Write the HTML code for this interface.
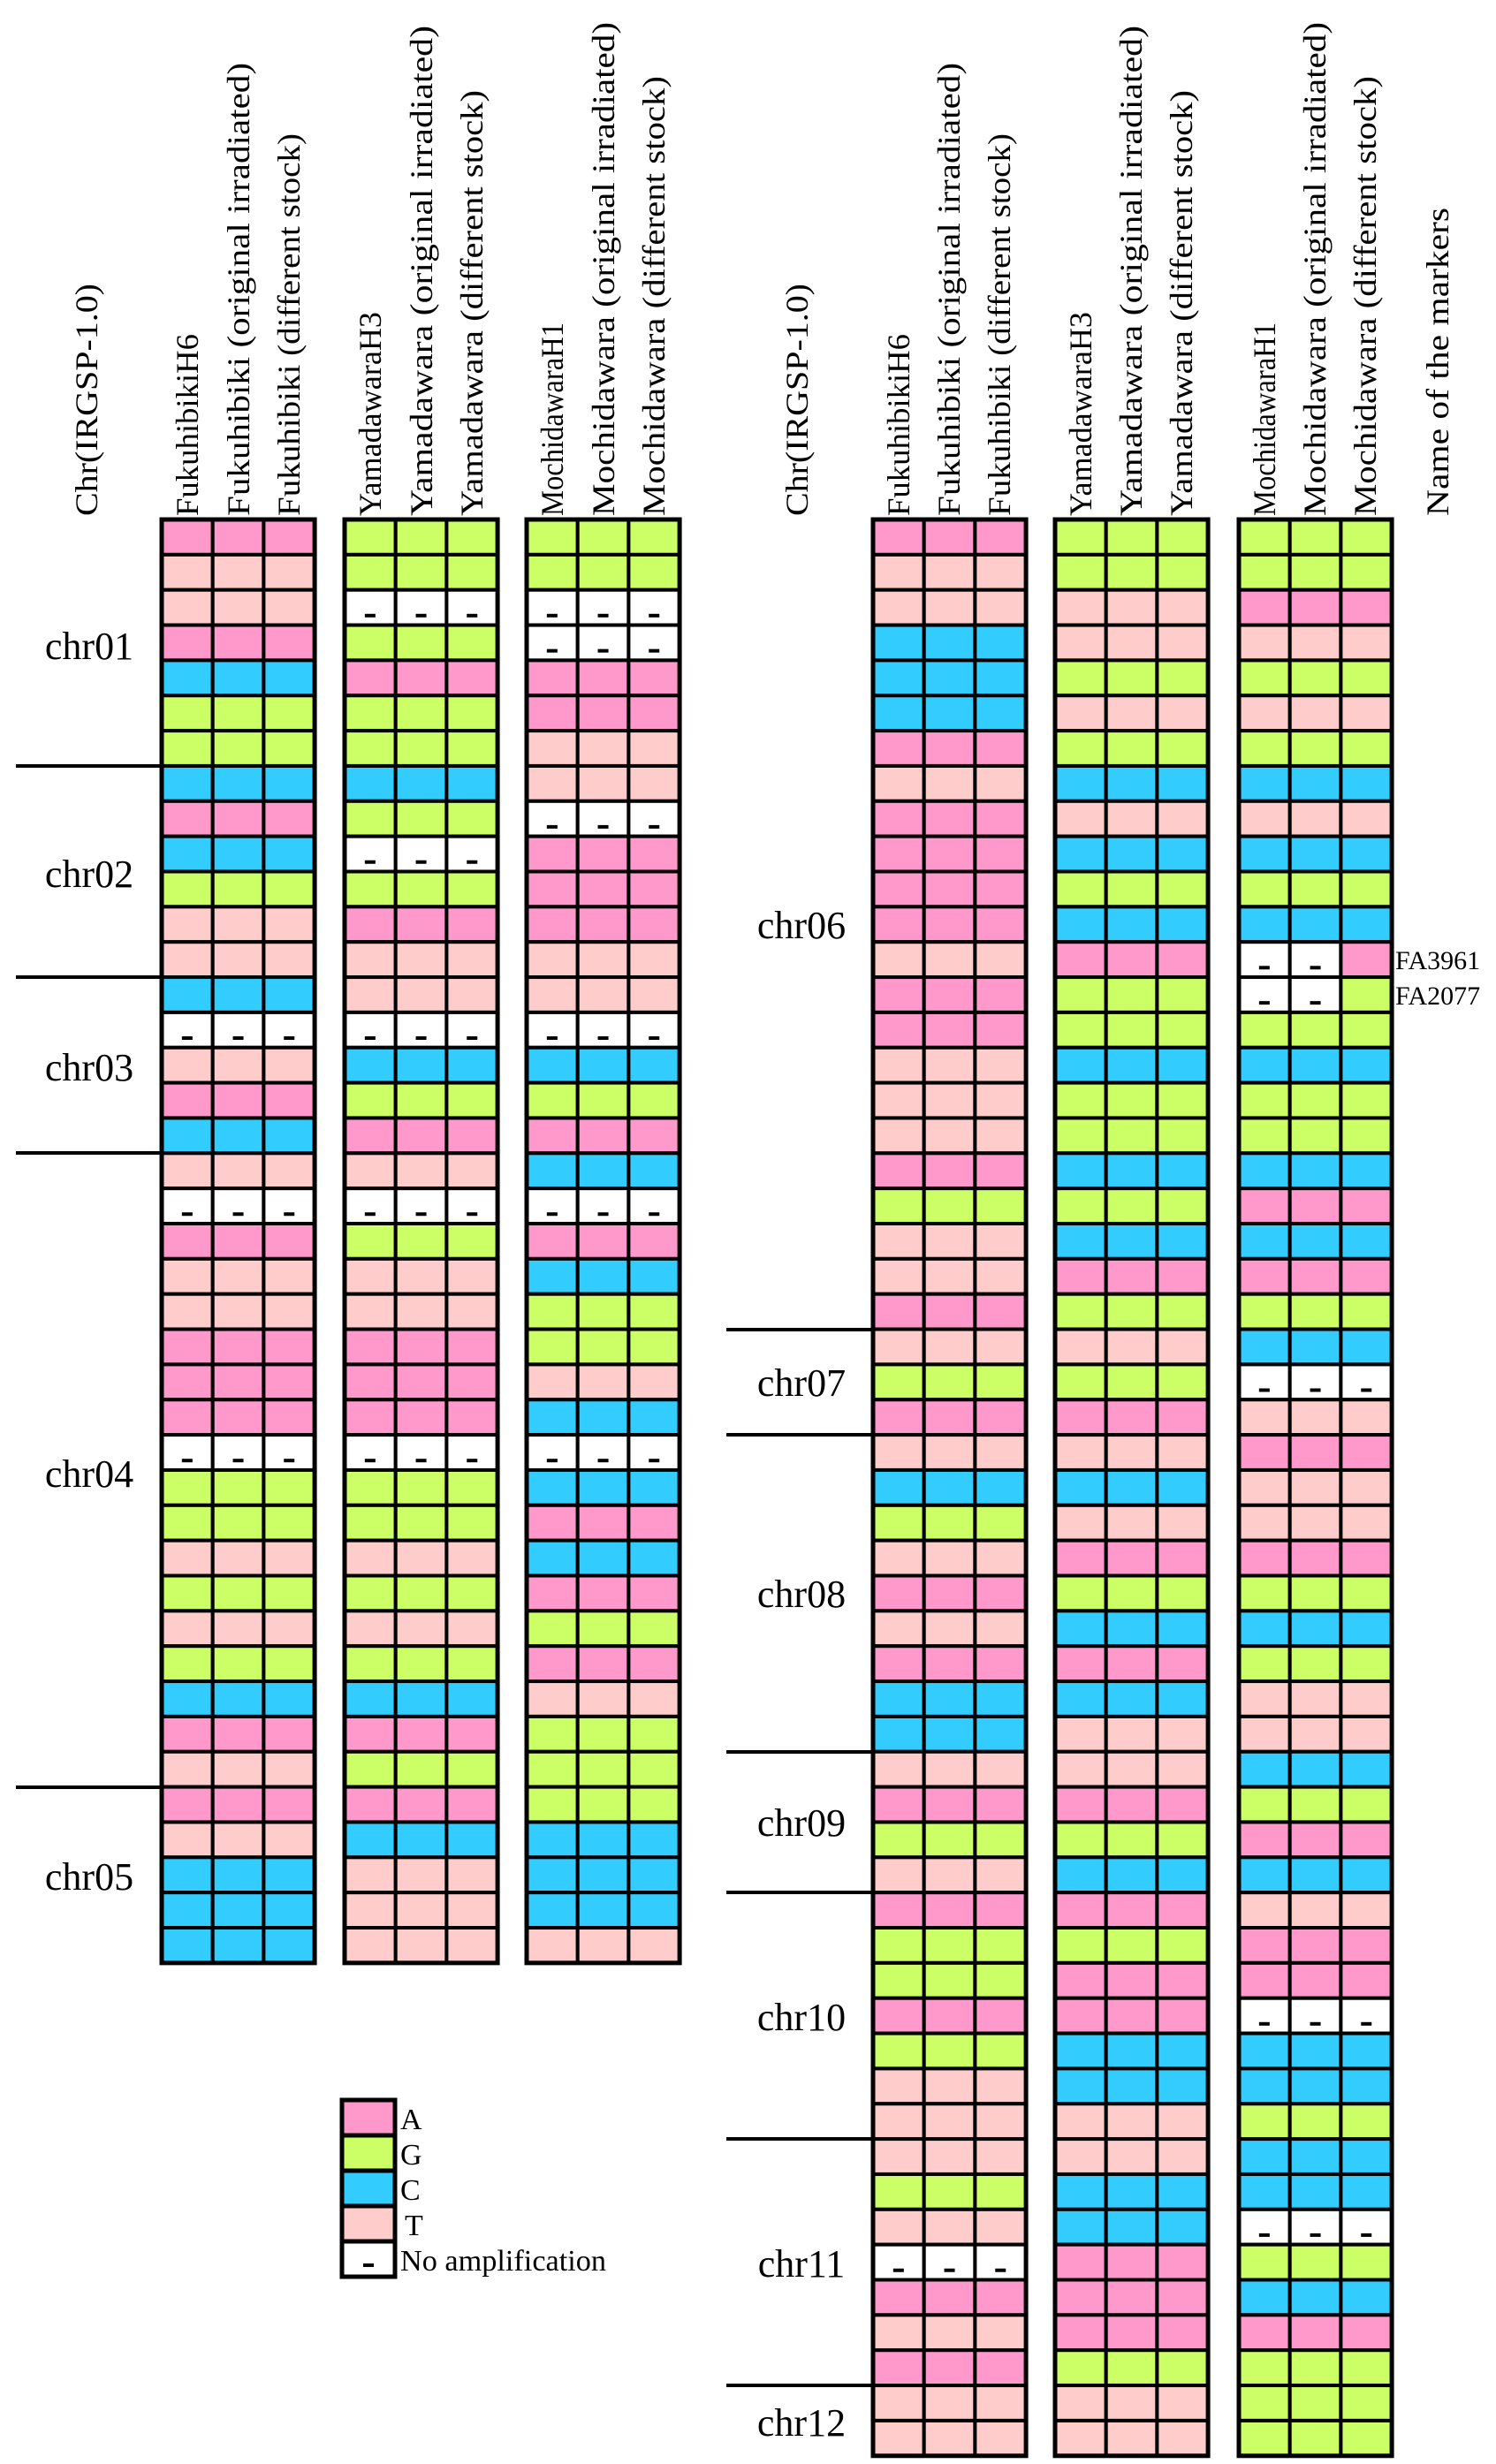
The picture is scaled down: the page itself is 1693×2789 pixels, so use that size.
<!DOCTYPE html>
<html><head><meta charset="utf-8">
<style>
html,body{margin:0;padding:0;background:#fff;}
svg{display:block;}
text{font-family:"Liberation Serif",serif;fill:#000;}
</style></head>
<body>
<svg id="s" xmlns="http://www.w3.org/2000/svg" width="1693" height="2789" viewBox="0 0 1693 2789">
<g id="cells"></g>
<g font-size="36">
<text transform="translate(110,584) rotate(-90)" textLength="263" lengthAdjust="spacingAndGlyphs">Chr(IRGSP-1.0)</text>
<text transform="translate(224,584) rotate(-90)" textLength="206" lengthAdjust="spacingAndGlyphs">FukuhibikiH6</text>
<text transform="translate(282,584) rotate(-90)" textLength="513" lengthAdjust="spacingAndGlyphs">Fukuhibiki (original irradiated)</text>
<text transform="translate(339,584) rotate(-90)" textLength="433" lengthAdjust="spacingAndGlyphs">Fukuhibiki (different stock)</text>
<text transform="translate(431,584) rotate(-90)" textLength="231" lengthAdjust="spacingAndGlyphs">YamadawaraH3</text>
<text transform="translate(489,584) rotate(-90)" textLength="555" lengthAdjust="spacingAndGlyphs">Yamadawara (original irradiated)</text>
<text transform="translate(546,584) rotate(-90)" textLength="482" lengthAdjust="spacingAndGlyphs">Yamadawara (different stock)</text>
<text transform="translate(637,584) rotate(-90)" textLength="219" lengthAdjust="spacingAndGlyphs">MochidawaraH1</text>
<text transform="translate(695,584) rotate(-90)" textLength="559" lengthAdjust="spacingAndGlyphs">Mochidawara (original irradiated)</text>
<text transform="translate(752,584) rotate(-90)" textLength="498" lengthAdjust="spacingAndGlyphs">Mochidawara (different stock)</text>
<text transform="translate(914,584) rotate(-90)" textLength="263" lengthAdjust="spacingAndGlyphs">Chr(IRGSP-1.0)</text>
<text transform="translate(1029,584) rotate(-90)" textLength="206" lengthAdjust="spacingAndGlyphs">FukuhibikiH6</text>
<text transform="translate(1086,584) rotate(-90)" textLength="513" lengthAdjust="spacingAndGlyphs">Fukuhibiki (original irradiated)</text>
<text transform="translate(1143,584) rotate(-90)" textLength="433" lengthAdjust="spacingAndGlyphs">Fukuhibiki (different stock)</text>
<text transform="translate(1235,584) rotate(-90)" textLength="231" lengthAdjust="spacingAndGlyphs">YamadawaraH3</text>
<text transform="translate(1292,584) rotate(-90)" textLength="555" lengthAdjust="spacingAndGlyphs">Yamadawara (original irradiated)</text>
<text transform="translate(1349,584) rotate(-90)" textLength="482" lengthAdjust="spacingAndGlyphs">Yamadawara (different stock)</text>
<text transform="translate(1443,584) rotate(-90)" textLength="219" lengthAdjust="spacingAndGlyphs">MochidawaraH1</text>
<text transform="translate(1500,584) rotate(-90)" textLength="559" lengthAdjust="spacingAndGlyphs">Mochidawara (original irradiated)</text>
<text transform="translate(1557,584) rotate(-90)" textLength="498" lengthAdjust="spacingAndGlyphs">Mochidawara (different stock)</text>
<text transform="translate(1639,584) rotate(-90)" textLength="349" lengthAdjust="spacingAndGlyphs">Name of the markers</text>
</g>
<g font-size="44" text-anchor="middle">
<text x="101" y="746">chr01</text>
<text x="101" y="1004">chr02</text>
<text x="101" y="1223">chr03</text>
<text x="101" y="1683">chr04</text>
<text x="101" y="2139">chr05</text>
<text x="907" y="1062">chr06</text>
<text x="907" y="1580">chr07</text>
<text x="907" y="1819">chr08</text>
<text x="907" y="2078">chr09</text>
<text x="907" y="2298">chr10</text>
<text x="907" y="2577">chr11</text>
<text x="907" y="2757">chr12</text>
</g>
<g font-size="30">
<text x="1579" y="1097">FA3961</text>
<text x="1579" y="1137">FA2077</text>
</g>
<g stroke="#000" stroke-width="4">
<line x1="18" y1="867" x2="183" y2="867"/>
<line x1="18" y1="1106" x2="183" y2="1106"/>
<line x1="18" y1="1305" x2="183" y2="1305"/>
<line x1="18" y1="2023" x2="183" y2="2023"/>
<line x1="822" y1="1505" x2="988" y2="1505"/>
<line x1="822" y1="1624" x2="988" y2="1624"/>
<line x1="822" y1="1983" x2="988" y2="1983"/>
<line x1="822" y1="2142" x2="988" y2="2142"/>
<line x1="822" y1="2421" x2="988" y2="2421"/>
<line x1="822" y1="2700" x2="988" y2="2700"/>
</g>
<g stroke="#000" stroke-width="5">
<rect x="387" y="2377" width="60" height="40" fill="#ff99cc"/>
<rect x="387" y="2417" width="60" height="40" fill="#ccff66"/>
<rect x="387" y="2457" width="60" height="40" fill="#33ccff"/>
<rect x="387" y="2497" width="60" height="40" fill="#ffcccc"/>
<rect x="387" y="2537" width="60" height="40" fill="#ffffff"/>
</g>
<rect x="411" y="2562" width="12" height="4" fill="#000"/>
<g font-size="34">
<text x="453" y="2410">A</text>
<text x="453" y="2450">G</text>
<text x="453" y="2490">C</text>
<text x="458" y="2530">T</text>
<text x="453" y="2570" textLength="233" lengthAdjust="spacingAndGlyphs">No amplification</text>
</g>
</svg>
<script>
(function(){
var col={A:"#ff99cc",G:"#ccff66",C:"#33ccff",T:"#ffcccc","-":"#ffffff"};
var left=["A G G","T G G","T - -","A G -","C A A","G G A","G G T","C C T","A G -","C - A","G G A","T A A","T T T","C T T","- - -","T C C","A G G","C A A","T T C","- - -","A G A","T T C","T T G","A A G","A A T","A A C","- - -","G G C","G G A","T T C","G G A","T T G","G G A","C C T","A A G","T G G","A A G","T C C","C T C","C T C","C T T"];
var right=["A G G","T G G","T T A","C T T","C G G","C T T","A G G","T C C","A T T","A C C","A G G","A C C","T A --A","A G --G","A G G","T C C","T G G","T G G","A C C","G G A","T C C","T A A","A G G","T T C","G G -","A A T","T T A","C C T","G T T","T A A","A G G","T C C","A A G","C C T","C T T","T T C","A A G","G G A","T C C","A A T","G G A","G A A","A A -","G C C","T C C","T T G","T T C","G C C","T C -","- A G","A A C","T A A","A G G","T T G","T T G"];
var NS="http://www.w3.org/2000/svg",g=document.getElementById("cells"),h=39.85,top=588,w=57.7;
function draw(rows,px){
 rows.forEach(function(r,i){
  var t=r.split(" ");
  t.forEach(function(tok,p){
   var s=tok.length==1?tok+tok+tok:tok;
   for(var k=0;k<3;k++){
    var x=px[p]+k*w,y=top+i*h,c=s[k];
    var e=document.createElementNS(NS,"rect");
    e.setAttribute("x",x);e.setAttribute("y",y);e.setAttribute("width",w);e.setAttribute("height",h);
    e.setAttribute("fill",col[c]);e.setAttribute("stroke","#000");e.setAttribute("stroke-width","4");
    g.appendChild(e);
    if(c=="-"){var d=document.createElementNS(NS,"rect");
     d.setAttribute("x",x+w/2-6);d.setAttribute("y",y+h*0.68);d.setAttribute("width",12);d.setAttribute("height",4);d.setAttribute("fill","#000");g.appendChild(d);}
   }
  });
 });
 px.forEach(function(x){var e=document.createElementNS(NS,"rect");
  e.setAttribute("x",x);e.setAttribute("y",top);e.setAttribute("width",3*w);e.setAttribute("height",rows.length*h);
  e.setAttribute("fill","none");e.setAttribute("stroke","#000");e.setAttribute("stroke-width","5");g.appendChild(e);});
}
draw(left,[183,390,596]);
draw(right,[988,1194,1402]);
})();
</script>
</body></html>
